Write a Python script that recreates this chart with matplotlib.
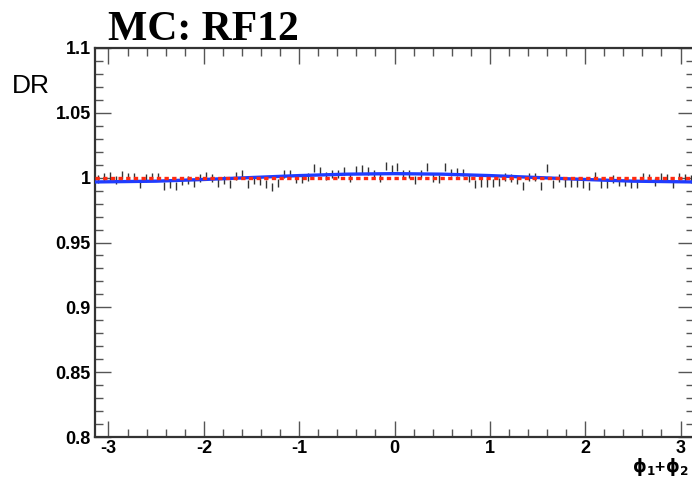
import numpy as np
import matplotlib
matplotlib.use("Agg")
import matplotlib.pyplot as plt
from matplotlib.ticker import MultipleLocator, FixedLocator

# bin contents of the double ratio, 100 bins over [-pi, pi]
DR_VALS = [
    0.9987, 1.0005, 1.0013, 0.9979, 1.0021, 1.0005, 1.0005, 0.9949, 0.9995, 1.0005,
    1.0005, 0.9936, 0.9949, 0.9936, 0.9974, 0.9979, 0.9961, 0.9995, 1.0013, 0.9995,
    0.9961, 0.9979, 0.9949, 1.0013, 1.0026, 0.9949, 0.9979, 0.9974, 0.9949, 0.9928,
    0.9961, 1.0031, 1.0031, 0.9987, 0.9987, 1.0005, 1.0077, 1.0051, 1.0013, 1.0026,
    1.0026, 1.0051, 1.0000, 1.0057, 1.0064, 1.0051, 1.0026, 1.0000, 1.0090, 1.0064,
    1.0082, 1.0031, 1.0031, 0.9979, 1.0026, 1.0082, 0.9995, 0.9987, 1.0082, 1.0039,
    1.0046, 1.0039, 1.0000, 0.9954, 0.9961, 0.9961, 0.9961, 0.9969, 1.0005, 0.9995,
    0.9979, 0.9936, 1.0005, 1.0005, 0.9936, 1.0077, 0.9949, 0.9995, 0.9961, 0.9961,
    0.9961, 0.9949, 0.9936, 1.0013, 0.9954, 0.9954, 0.9987, 0.9969, 0.9969, 0.9949,
    0.9949, 1.0005, 0.9995, 0.9969, 1.0005, 0.9995, 0.9949, 1.0005, 0.9995, 0.9987,
]
DR_ERR = 0.003

# fitted curve (blue) read at a few points
FIT_X = [-3.1416, -2.5, -2.0, -1.5, -1.0, -0.5, 0.0, 0.5, 1.0, 1.5, 2.0, 2.5, 3.1416]
FIT_Y = [0.9967, 0.9973, 0.9986, 1.0001, 1.0016, 1.0027, 1.0031,
         1.0027, 1.0016, 1.0001, 0.9986, 0.9973, 0.9967]

# flat reference (red dashed)
REF_X = [-3.1416, 3.1416]
REF_Y = [1.0, 1.0]

XMIN, XMAX = -np.pi, np.pi
YMIN, YMAX = 0.8, 1.1
XTICKS = [-3, -2, -1, 0, 1, 2, 3]
YTICKS = [0.8, 0.85, 0.9, 0.95, 1.0, 1.05, 1.1]
YTICKLABELS = ["0.8", "0.85", "0.9", "0.95", "1", "1.05", "1.1"]

fig = plt.figure(figsize=(6.92, 4.8), dpi=100)
ax = fig.add_axes([95 / 692, 1 - 437 / 480, 599 / 692, 389 / 480])

nb = len(DR_VALS)
edges = np.linspace(XMIN, XMAX, nb + 1)
centers = 0.5 * (edges[:-1] + edges[1:])
ax.errorbar(centers, DR_VALS, yerr=DR_ERR, fmt="none", ecolor="#333333",
            elinewidth=1.0, capsize=0, zorder=2)
ax.plot(FIT_X, FIT_Y, color="#1f3cff", lw=2.4, zorder=3, solid_capstyle="butt")
ax.plot(REF_X, REF_Y, color="#ff2a10", lw=2.4, dashes=(1.3, 1.0),
        dash_capstyle="butt", zorder=4)

ax.set_xlim(XMIN, XMAX)
ax.set_ylim(YMIN, YMAX)
ax.xaxis.set_major_locator(FixedLocator(XTICKS))
ax.xaxis.set_minor_locator(MultipleLocator(0.2))
ax.yaxis.set_major_locator(FixedLocator(YTICKS))
ax.yaxis.set_minor_locator(MultipleLocator(0.01))
ax.set_yticklabels(YTICKLABELS)
ax.set_xticklabels([str(t) for t in XTICKS])

ax.tick_params(which="both", direction="in", top=True, right=True,
               color="#555555")
ax.tick_params(which="major", length=11.5, width=1.0)
ax.tick_params(which="minor", length=6, width=1.0)
ax.tick_params(axis="x", pad=2)
ax.tick_params(axis="y", pad=3)
for lab in ax.get_xticklabels() + ax.get_yticklabels():
    lab.set_fontfamily("Liberation Sans")
    lab.set_fontweight("bold")
    lab.set_fontsize(13)
for sp in ax.spines.values():
    sp.set_linewidth(1.6)
    sp.set_color("#333333")

fig.text(108 / 692, 1 - 40 / 480, "MC: RF12", family="Liberation Serif",
         weight="bold", fontsize=30, ha="left", va="baseline")
fig.text(12 / 692, 1 - 93 / 480, "DR", family="Liberation Sans",
         fontsize=19, ha="left", va="baseline")
fig.text(689 / 692, 1 - 472 / 480, r"$\mathbf{\phi_1}$+$\mathbf{\phi_2}$",
         family="Liberation Sans", weight="bold", fontsize=12.5,
         ha="right", va="baseline")

fig.savefig("out.png", dpi=100)
